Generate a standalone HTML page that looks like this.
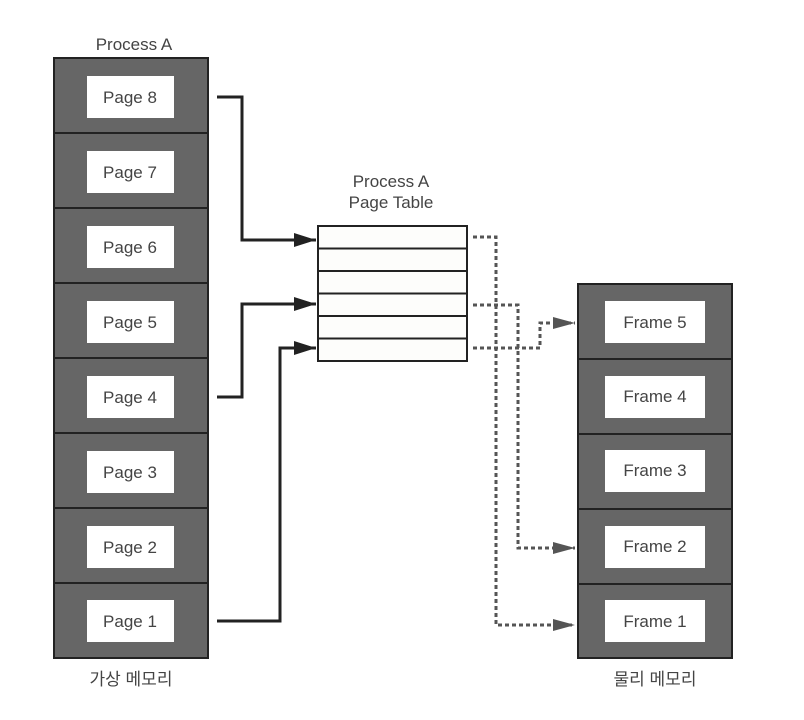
<!DOCTYPE html>
<html><head><style>
body{margin:0;background:#fff;}
svg{display:block}
text{font-family:"Liberation Sans","Noto Sans CJK KR",sans-serif;fill:#444;}
</style></head><body>
<svg width="804" height="720" viewBox="0 0 804 720" xmlns="http://www.w3.org/2000/svg">
<defs>
<marker id="a" markerWidth="10" markerHeight="8" refX="9" refY="4" orient="auto" markerUnits="userSpaceOnUse" viewBox="0 0 10 8">
<path d="M0,0 L10,4 L0,8 Z" fill="#222"/></marker>
<marker id="g" markerWidth="22" markerHeight="12" refX="22" refY="6" orient="auto" markerUnits="userSpaceOnUse">
<path d="M0,0 L22,6 L0,12 Z" fill="#555"/></marker>
<marker id="b" markerWidth="22" markerHeight="14" refX="22" refY="7" orient="auto" markerUnits="userSpaceOnUse">
<path d="M0,0 L22,7 L0,14 Z" fill="#222"/></marker>
</defs>
<text x="134" y="50" font-size="17" text-anchor="middle">Process A</text>
<g stroke="#222" stroke-width="2" fill="#666">
<rect x="54" y="58" width="154" height="75"/><rect x="54" y="133" width="154" height="75"/>
<rect x="54" y="208" width="154" height="75"/><rect x="54" y="283" width="154" height="75"/>
<rect x="54" y="358" width="154" height="75"/><rect x="54" y="433" width="154" height="75"/>
<rect x="54" y="508" width="154" height="75"/><rect x="54" y="583" width="154" height="75"/>
</g>
<g fill="#fff">
<rect x="87" y="76" width="87" height="42"/><rect x="87" y="151" width="87" height="42"/>
<rect x="87" y="226" width="87" height="42"/><rect x="87" y="301" width="87" height="42"/>
<rect x="87" y="376" width="87" height="42"/><rect x="87" y="451" width="87" height="42"/>
<rect x="87" y="526" width="87" height="42"/><rect x="87" y="600" width="87" height="42"/>
</g>
<g font-size="17" text-anchor="middle">
<text x="130" y="103">Page 8</text><text x="130" y="178">Page 7</text>
<text x="130" y="253">Page 6</text><text x="130" y="328">Page 5</text>
<text x="130" y="403">Page 4</text><text x="130" y="478">Page 3</text>
<text x="130" y="553">Page 2</text><text x="130" y="627">Page 1</text>
</g>
<text x="131" y="685" font-size="17" text-anchor="middle">가상 메모리</text>

<text x="391" y="187" font-size="17" text-anchor="middle">Process A</text>
<text x="391" y="208" font-size="17" text-anchor="middle">Page Table</text>
<rect x="318" y="226" width="149" height="135" fill="#fdfdfb" stroke="#222" stroke-width="2"/>
<g stroke="#222" stroke-width="2">
<line x1="318" y1="248.5" x2="467" y2="248.5"/><line x1="318" y1="271" x2="467" y2="271"/>
<line x1="318" y1="293.5" x2="467" y2="293.5"/><line x1="318" y1="316" x2="467" y2="316"/>
<line x1="318" y1="338.5" x2="467" y2="338.5"/>
</g>

<g stroke="#222" stroke-width="2">
<rect x="578" y="284" width="154" height="75" fill="#666"/><rect x="578" y="359" width="154" height="75" fill="#666"/>
<rect x="578" y="434" width="154" height="75" fill="#666"/><rect x="578" y="509" width="154" height="75" fill="#666"/>
<rect x="578" y="584" width="154" height="74" fill="#666"/>
</g>
<g fill="#fff">
<rect x="605" y="301" width="100" height="42"/><rect x="605" y="376" width="100" height="42"/>
<rect x="605" y="450" width="100" height="42"/><rect x="605" y="526" width="100" height="42"/>
<rect x="605" y="600" width="100" height="42"/>
</g>
<g font-size="17" text-anchor="middle">
<text x="655" y="328">Frame 5</text><text x="655" y="402">Frame 4</text>
<text x="655" y="476">Frame 3</text><text x="655" y="552">Frame 2</text>
<text x="655" y="627">Frame 1</text>
</g>
<text x="655" y="685" font-size="17" text-anchor="middle">물리 메모리</text>

<g fill="none" stroke="#222" stroke-width="3">
<path d="M217 97 H242 V240 H316" marker-end="url(#b)"/>
<path d="M217 397 H242 V304 H316" marker-end="url(#b)"/>
<path d="M217 621 H280 V348 H316" marker-end="url(#b)"/>
</g>
<g fill="none" stroke="#555" stroke-width="3" stroke-dasharray="4,3">
<path d="M473 237 H496 V625 H575" marker-end="url(#g)"/>
<path d="M473 305 H518 V548 H575" marker-end="url(#g)"/>
<path d="M473 348 H540 V323 H575" marker-end="url(#g)"/>
</g>
</svg>
</body></html>
